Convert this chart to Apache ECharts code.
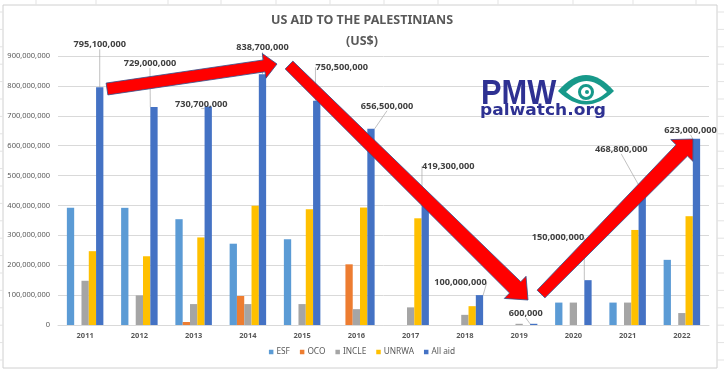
<!DOCTYPE html>
<html>
<head>
<meta charset="utf-8">
<script src="https://cdn.jsdelivr.net/npm/echarts@6/dist/echarts.min.js"></script>
<style>
  html, body { margin: 0; padding: 0; background: #fff; }
  #chart { width: 724px; height: 375px; }
</style>
</head>
<body>
<div id="chart"></div>
<script>
const years = ['2011', '2012', '2013', '2014', '2015', '2016', '2017', '2018', '2019', '2020', '2021', '2022']
const esf = [392e6, 392e6, 354e6, 272e6, 287e6, '-', '-', '-', '-', 75e6, 75e6, 218e6]
const oco = ['-', '-', 10e6, 97e6, '-', 203e6, '-', '-', '-', '-', '-', '-']
const incle = [148e6, 99e6, 70e6, 70e6, 70e6, 53e6, 59e6, 34e6, 0.6e6, 75e6, 75e6, 40e6]
const unrwa = [247e6, 230e6, 293e6, 399e6, 387e6, 393e6, 357e6, 63e6, '-', '-', 318e6, 364e6]
const allAid = [795.1e6, 729e6, 730.7e6, 838.7e6, 750.5e6, 656.5e6, 419.3e6, 100e6, 0.6e6, 150e6, 468.8e6, 623e6]

// where each "All aid" label is pulled from its default spot (px)
const labelShift = [[0, -33], [-4, -34], [-7, 7], [0, -17], [25, -24], [16, -13], [23, -24], [-19, -3], [-8, -1], [-30, -33], [-21, -26], [-6, 1]]

const fmt = v => Number(v).toLocaleString('en-US')

// block arrow outline, tip at (x2, y2)
function arrowPts (x1, y1, x2, y2, w0, w1, hw, hl) {
  const dx = x2 - x1
  const dy = y2 - y1
  const L = Math.hypot(dx, dy)
  const ux = dx / L
  const uy = dy / L
  const px = -uy
  const py = ux
  const bx = x2 - ux * hl
  const by = y2 - uy * hl
  return [
    [x1 + px * w0 / 2, y1 + py * w0 / 2],
    [bx + px * w1 / 2, by + py * w1 / 2],
    [bx + px * hw / 2, by + py * hw / 2],
    [x2, y2],
    [bx - px * hw / 2, by - py * hw / 2],
    [bx - px * w1 / 2, by - py * w1 / 2],
    [x1 - px * w0 / 2, y1 - py * w0 / 2]
  ]
}

function quadPts (p0, c, p1, n) {
  const pts = []
  for (let i = 0; i <= n; i++) {
    const t = i / n
    const a = (1 - t) * (1 - t)
    const b = 2 * (1 - t) * t
    const d = t * t
    pts.push([a * p0[0] + b * c[0] + d * p1[0], a * p0[1] + b * c[1] + d * p1[1]])
  }
  return pts
}

function almond (x0, x1, y, top, bottom) {
  const cx = (x0 + x1) / 2
  return quadPts([x0, y], [cx, top], [x1, y], 16).concat(quadPts([x1, y], [cx, bottom], [x0, y], 16))
}

const arrowStyle = { fill: '#ff0000', stroke: '#2f528f', lineWidth: 0.8 }

const sheetLines = []
const cols = [36, 96, 168, 221, 276, 330, 384, 438, 498, 573, 633, 696]
cols.forEach(x => sheetLines.push({ type: 'line', shape: { x1: x, y1: 0, x2: x, y2: 5 }, style: { stroke: '#e3e3e3', lineWidth: 1 } }))
for (let y = 12; y < 375; y += 17.4) {
  sheetLines.push({ type: 'line', shape: { x1: 0, y1: y, x2: 3, y2: y }, style: { stroke: '#e3e3e3', lineWidth: 1 } })
  sheetLines.push({ type: 'line', shape: { x1: 717, y1: y, x2: 724, y2: y }, style: { stroke: '#e3e3e3', lineWidth: 1 } })
}

const chart = echarts.init(document.getElementById('chart'))

const barBase = {
  type: 'bar',
  barWidth: 7.3,
  barGap: '0%'
}

chart.setOption({
  animation: false,
  textStyle: { fontFamily: 'Noto Sans' },
  title: [
    {
      text: 'US AID TO THE PALESTINIANS',
      left: 'center',
      top: 9,
      textStyle: { fontSize: 12.5, fontWeight: 'bold', color: '#595959' }
    },
    {
      text: '(US$)',
      left: 'center',
      top: 30,
      textStyle: { fontSize: 12.5, fontWeight: 'bold', color: '#595959' }
    }
  ],
  legend: {
    bottom: 14,
    left: 'center',
    icon: 'rect',
    itemWidth: 4.5,
    itemHeight: 4.5,
    itemGap: 10,
    textStyle: { fontSize: 8.3, color: '#595959', padding: [0, 0, 0, -2] },
    data: ['ESF', 'OCO', 'INCLE', 'UNRWA', 'All aid']
  },
  grid: { left: 58, right: 15, top: 56, bottom: 50 },
  xAxis: {
    type: 'category',
    data: years,
    axisTick: { show: false },
    axisLine: { lineStyle: { color: '#d9d9d9' } },
    axisLabel: { fontSize: 7.5, fontWeight: 'bold', color: '#595959', margin: 7 }
  },
  yAxis: {
    type: 'value',
    min: 0,
    max: 900e6,
    interval: 100e6,
    axisLine: { show: false },
    axisTick: { show: false },
    splitLine: { lineStyle: { color: '#d9d9d9' } },
    axisLabel: { fontSize: 7.5, color: '#595959', margin: 8, formatter: fmt }
  },
  series: [
    { ...barBase, name: 'ESF', data: esf, itemStyle: { color: '#5b9bd5' } },
    { ...barBase, name: 'OCO', data: oco, itemStyle: { color: '#ed7d31' } },
    { ...barBase, name: 'INCLE', data: incle, barMinHeight: 1.2, itemStyle: { color: '#a5a5a5' } },
    { ...barBase, name: 'UNRWA', data: unrwa, itemStyle: { color: '#ffc000' } },
    {
      ...barBase,
      name: 'All aid',
      data: allAid,
      barMinHeight: 1.2,
      itemStyle: { color: '#4472c4' },
      label: {
        show: true,
        position: 'top',
        fontSize: 9.2,
        fontWeight: 'bold',
        color: '#404040',
        formatter: p => fmt(p.value)
      },
      labelLine: { show: true, lineStyle: { color: '#a6a6a6', width: 0.7 } },
      labelLayout: p => ({ dx: labelShift[p.dataIndex][0], dy: labelShift[p.dataIndex][1] })
    }
  ],
  graphic: [
    { type: 'rect', shape: { x: 3, y: 5, width: 714, height: 363 }, style: { fill: 'none', stroke: '#d0d0d0', lineWidth: 1 }, z: 0 },
    ...sheetLines,
    // arrows
    { type: 'polygon', z: 20, shape: { points: arrowPts(107, 89, 277, 64, 12, 12, 25, 13) }, style: arrowStyle },
    { type: 'polygon', z: 20, shape: { points: arrowPts(289, 65, 528, 300, 11, 16, 31, 18) }, style: arrowStyle },
    { type: 'polygon', z: 20, shape: { points: arrowPts(541, 294, 693, 139, 11, 16, 31, 16) }, style: arrowStyle },
    // PMW logo
    {
      type: 'text', z: 20, x: 481, y: 77, scaleX: 0.88,
      style: { text: 'PMW', font: 'bold 35px "Liberation Sans"', fill: '#2e3192', textVerticalAlign: 'top' }
    },
    {
      type: 'text', z: 20, x: 480, y: 103, scaleX: 1.1,
      style: { text: 'palwatch.org', font: 'bold 15.5px "DejaVu Sans"', fill: '#2e3192', textVerticalAlign: 'top' }
    },
    { type: 'polygon', z: 20, shape: { points: almond(558, 614, 91, 59, 118) }, style: { fill: '#17998a' } },
    { type: 'polygon', z: 21, shape: { points: almond(566, 607, 92, 70, 110) }, style: { fill: '#ffffff' } },
    { type: 'circle', z: 22, shape: { cx: 586, cy: 92, r: 6.5 }, style: { fill: 'none', stroke: '#17998a', lineWidth: 3 } },
    { type: 'circle', z: 22, shape: { cx: 587, cy: 92, r: 2 }, style: { fill: '#17998a' } }
  ]
})
</script>
</body>
</html>
